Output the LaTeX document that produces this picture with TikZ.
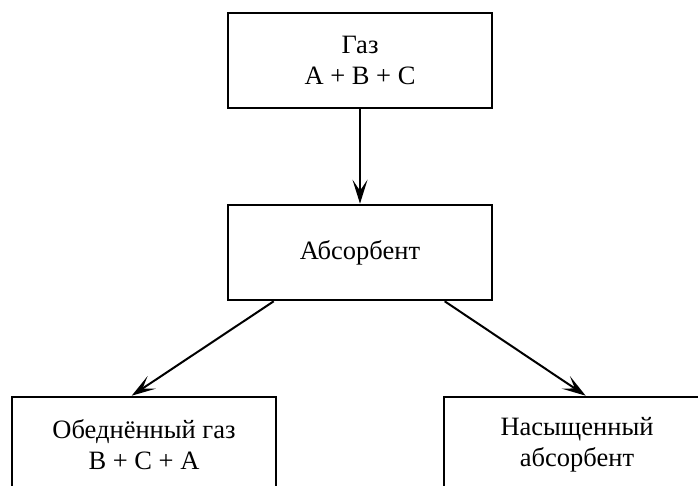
\documentclass[tikz,border=0pt]{standalone}
\usepackage{fontspec}
\setmainfont{Liberation Serif}
\usetikzlibrary{arrows.meta,calc}
\begin{document}
\begin{tikzpicture}[x=1pt,y=-1pt,
  blk/.style={draw=black, line width=2.6pt, minimum width=264pt, minimum height=95pt,
    inner sep=0pt, align=center, font=\fontsize{26.5}{31}\selectfont},
  arr/.style={line width=2pt, -{Stealth[length=24pt,width=15pt,inset=11pt]}}]
\useasboundingbox[fill=white] (0,0) rectangle (698,486);
\clip (0,0) rectangle (698,486);
\node[blk] (gas) at (360,60.5) {Газ\\A + B + C};
\node[blk] (abs) at (360,252.5) {Абсорбент};
\node[blk] (lean) at (144,444.5) {Обеднённый газ\\B + C + A};
\node[blk, minimum width=266pt] (rich) at (577,444.5) {Насыщенный\\абсорбент};
\draw[arr] (gas.south) -- (abs.north);
\draw[arr] ($(abs.south west)+(47,0)$) -- ($(lean.north west)+(121,0)$);
\draw[arr] ($(abs.south west)+(218,0)$) -- ($(rich.north west)+(143,0)$);
\end{tikzpicture}
\end{document}
